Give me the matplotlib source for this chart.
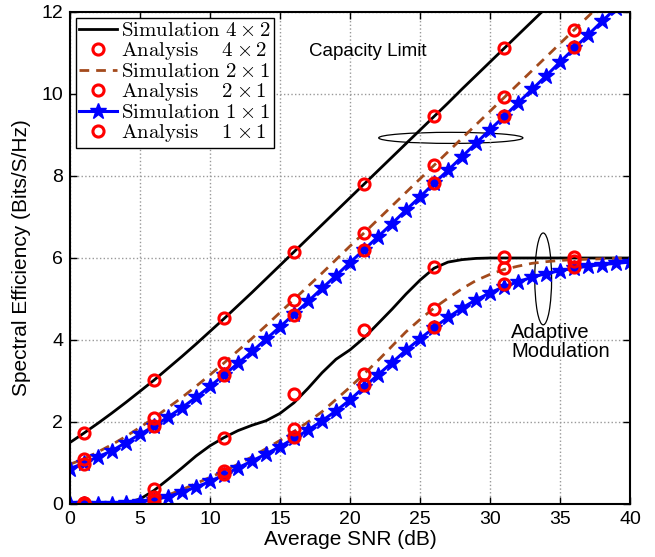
import numpy as np
import matplotlib
matplotlib.use('Agg')
import matplotlib.pyplot as plt
from matplotlib.patches import Ellipse

plt.rcParams['font.family'] = 'Liberation Sans'
plt.rcParams['mathtext.fontset'] = 'cm'

# SNR axis (dB)
snr = np.arange(0, 41)
snr_an = np.array([1, 6, 11, 16, 21, 26, 31, 36])

# capacity limit - simulation
cap_4x2 = [1.50, 1.73, 1.97, 2.22, 2.48, 2.75, 3.02, 3.31, 3.60, 3.90, 4.21,
           4.52, 4.84, 5.16, 5.49, 5.82, 6.15, 6.48, 6.81, 7.14, 7.47, 7.80,
           8.13, 8.46, 8.79, 9.12, 9.45, 9.78, 10.12, 10.45, 10.78, 11.11,
           11.44, 11.77, 12.10, 12.43]
cap_2x1 = [0.97, 1.10, 1.27, 1.45, 1.65, 1.87, 2.10, 2.35, 2.60, 2.87, 3.15,
           3.44, 3.74, 4.04, 4.35, 4.67, 4.99, 5.31, 5.63, 5.96, 6.29, 6.61,
           6.94, 7.27, 7.60, 7.93, 8.26, 8.59, 8.92, 9.25, 9.58, 9.91, 10.24,
           10.57, 10.90, 11.23, 11.56, 11.89, 12.22]
cap_1x1 = [0.86, 1.00, 1.15, 1.30, 1.50, 1.70, 1.90, 2.12, 2.35, 2.60, 2.87,
           3.15, 3.43, 3.72, 4.02, 4.32, 4.63, 4.94, 5.26, 5.57, 5.89, 6.20,
           6.52, 6.84, 7.17, 7.49, 7.82, 8.14, 8.47, 8.80, 9.13, 9.45, 9.78,
           10.11, 10.44, 10.78, 11.11, 11.44, 11.77, 12.10, 12.43]

# adaptive modulation - simulation
am_4x2 = [0.00, 0.00, 0.00, 0.01, 0.03, 0.12, 0.33, 0.60, 0.88, 1.17, 1.42,
          1.62, 1.79, 1.92, 2.03, 2.21, 2.47, 2.82, 3.20, 3.53, 3.76, 4.05,
          4.40, 4.75, 5.12, 5.46, 5.75, 5.90, 5.96, 5.99, 6.00, 6.00, 6.00,
          6.00, 6.00, 6.00, 6.00, 6.00, 6.00, 6.00, 6.00]
am_2x1 = [0.00, 0.00, 0.00, 0.00, 0.02, 0.05, 0.12, 0.22, 0.35, 0.50, 0.65,
          0.80, 0.97, 1.15, 1.35, 1.55, 1.77, 2.00, 2.25, 2.55, 2.85, 3.17,
          3.50, 3.85, 4.20, 4.50, 4.78, 5.02, 5.25, 5.45, 5.60, 5.72, 5.80,
          5.87, 5.91, 5.94, 5.96, 5.97, 5.98, 5.99, 6.00]
am_1x1 = [0.00, 0.00, 0.00, 0.01, 0.02, 0.05, 0.10, 0.18, 0.29, 0.41, 0.55,
          0.71, 0.88, 1.05, 1.22, 1.40, 1.60, 1.80, 2.03, 2.27, 2.54, 2.85,
          3.15, 3.45, 3.75, 4.03, 4.30, 4.55, 4.78, 4.98, 5.15, 5.30, 5.42,
          5.53, 5.62, 5.69, 5.75, 5.80, 5.84, 5.87, 5.90]

# analysis points
an_cap_4x2 = [1.74, 3.02, 4.53, 6.15, 7.80, 9.46, 11.12]
an_cap_2x1 = [1.10, 2.10, 3.44, 4.98, 6.61, 8.27, 9.93, 11.56]
an_cap_1x1 = [0.98, 1.90, 3.15, 4.62, 6.20, 7.83, 9.46, 11.15]
an_am_4x2 = [0.02, 0.36, 1.62, 2.68, 4.25, 5.77, 6.02, 6.02]
an_am_2x1 = [0.02, 0.16, 0.80, 1.82, 3.18, 4.76, 5.75, 5.92]
an_am_1x1 = [0.00, 0.08, 0.72, 1.64, 2.90, 4.32, 5.36, 5.77]

brown = '#a34a1c'
circ = dict(ls='none', marker='o', ms=8, mfc='none', mec='red', mew=2.2)

fig = plt.figure(figsize=(6.55, 5.57), dpi=100)
ax = fig.add_axes([70/655, 53/557, 560/655, 492/557])

# simulation curves
h1, = ax.plot(snr[:len(cap_4x2)], cap_4x2, color='k', lw=2)
ax.plot(snr, am_4x2, color='k', lw=2)
h3, = ax.plot(snr[:len(cap_2x1)], cap_2x1, color=brown, lw=2, ls=(0, (3.5, 2.5)))
ax.plot(snr, am_2x1, color=brown, lw=2, ls=(0, (3.5, 2.5)))
h5, = ax.plot(snr, cap_1x1, color='b', lw=2.2, marker='*', ms=12)
ax.plot(snr, am_1x1, color='b', lw=2.2, marker='*', ms=12)

# analysis
h2, = ax.plot(snr_an[:len(an_cap_4x2)], an_cap_4x2, **circ)
ax.plot(snr_an, an_am_4x2, **circ)
h4, = ax.plot(snr_an, an_cap_2x1, **circ)
ax.plot(snr_an, an_am_2x1, **circ)
h6, = ax.plot(snr_an, an_cap_1x1, **circ)
ax.plot(snr_an, an_am_1x1, **circ)

# ellipses and annotations
ax.add_patch(Ellipse((27.2, 8.93), 10.3, 0.27, fill=False, ec='k', lw=0.9))
ax.add_patch(Ellipse((33.8, 5.49), 1.2, 2.24, fill=False, ec='k', lw=0.9))
ax.text(17.1, 10.93, 'Capacity Limit', fontsize=13.5, va='baseline')
ax.text(31.5, 3.95, 'Adaptive\nModulation', fontsize=14.5, va='center',
        linespacing=1.0)

labels = [r'$\mathrm{Simulation}\ 4\times 2$',
          r'$\mathrm{Analysis}\quad\ 4\times 2$',
          r'$\mathrm{Simulation}\ 2\times 1$',
          r'$\mathrm{Analysis}\quad\ 2\times 1$',
          r'$\mathrm{Simulation}\ 1\times 1$',
          r'$\mathrm{Analysis}\quad\ 1\times 1$']
leg = ax.legend([h1, h2, h3, h4, h5, h6], labels, loc='upper left',
                fontsize=15, labelspacing=0.0, handlelength=1.8,
                handletextpad=0.2, borderpad=0.15, borderaxespad=0.3,
                fancybox=False, framealpha=1, edgecolor='k')
leg.get_frame().set_linewidth(1.0)

ax.set_xlim(0, 40)
ax.set_ylim(0, 12)
ax.set_xticks(range(0, 41, 5))
ax.set_yticks(range(0, 13, 2))
ax.tick_params(direction='in', top=True, right=True, labelsize=14, length=5,
               width=1, pad=5)
ax.grid(True, ls=':', color='0.6', lw=1)
for s in ax.spines.values():
    s.set_linewidth(1.5)
ax.set_xlabel('Average SNR (dB)', fontsize=15)
ax.set_ylabel('Spectral Efficiency (Bits/S/Hz)', fontsize=15)
ax.xaxis.set_label_coords(0.5, -0.052)
ax.yaxis.set_label_coords(-0.07, 0.5)

fig.savefig('out.png', dpi=100)
